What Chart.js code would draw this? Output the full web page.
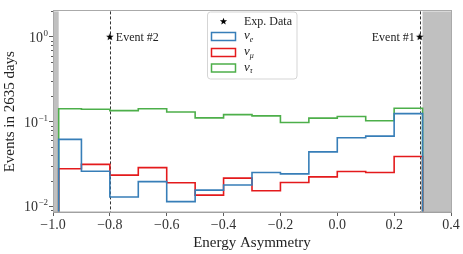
<!DOCTYPE html>
<html><head><meta charset="utf-8">
<script src="https://cdn.jsdelivr.net/npm/chart.js@4/dist/chart.umd.min.js"></script>
<style>html,body{margin:0;padding:0;background:#fff}#wrap{width:463px;height:254px;position:relative}</style>
</head><body><div id="wrap"><canvas id="c" width="463" height="254"></canvas></div>
<script>
// ---- data ----
const binEdges = [-0.98,-0.9,-0.8,-0.7,-0.6,-0.5,-0.4,-0.3,-0.2,-0.1,0.0,0.1,0.2,0.3];
const nuE   = [0.0618,0.0260,0.0129,0.0196,0.0114,0.0156,0.0179,0.0251,0.0242,0.0440,0.0646,0.0676,0.1245];
const nuMu  = [0.0279,0.0314,0.0234,0.0287,0.0190,0.0136,0.0216,0.0153,0.0192,0.0223,0.0258,0.0251,0.0389];
const nuTau = [0.142,0.140,0.135,0.142,0.130,0.111,0.121,0.117,0.098,0.110,0.115,0.1026,0.144];
const eventX = [-0.8, 0.29];
const eventY = [1, 1];
const eventLabels = ['Event #2', 'Event #1'];
const xTicks = [-1.0,-0.8,-0.6,-0.4,-0.2,0.0,0.2,0.4];
const yTicks = [0.01, 0.1, 1];
const yTickExp = ['\u22122', '\u22121', '0'];
const excludedRanges = [[-1.0,-0.98],[0.3,0.4]];
const seriesNames = ['e', '\u03bc', '\u03c4'];
const seriesColors = ['#377eb8', '#e41a1c', '#4daf4a'];

const SERIF = '"Liberation Serif", "DejaVu Serif", serif';
const Y_MIN = 0.0086, Y_MAX = 2.0;

function histPoints(vals) {
  const pts = [{x: binEdges[0], y: 1e-4}];
  vals.forEach((v, i) => { pts.push({x: binEdges[i], y: v}); pts.push({x: binEdges[i+1], y: v}); });
  pts.push({x: binEdges[binEdges.length-1], y: 1e-4});
  return pts;
}

function makeStar(r, color) {
  const c = document.createElement('canvas');
  const s = Math.ceil(r*2 + 2);
  c.width = s; c.height = s;
  const g = c.getContext('2d');
  g.fillStyle = color;
  g.beginPath();
  for (let i = 0; i < 10; i++) {
    const rr = i % 2 === 0 ? r : r*0.42;
    const a = -Math.PI/2 + i*Math.PI/5;
    const px = s/2 + rr*Math.cos(a), py = s/2 + rr*Math.sin(a);
    if (i === 0) g.moveTo(px, py); else g.lineTo(px, py);
  }
  g.closePath(); g.fill();
  return c;
}
const starImg = makeStar(4, '#000');

function drawStar(ctx, x, y, r) {
  ctx.beginPath();
  for (let i = 0; i < 10; i++) {
    const rr = i % 2 === 0 ? r : r*0.42;
    const a = -Math.PI/2 + i*Math.PI/5;
    const px = x + rr*Math.cos(a), py = y + rr*Math.sin(a);
    if (i === 0) ctx.moveTo(px, py); else ctx.lineTo(px, py);
  }
  ctx.closePath(); ctx.fillStyle = '#000'; ctx.fill();
}

const decor = {
  id: 'decor',
  beforeDatasetsDraw(chart) {
    const {ctx, chartArea: a, scales: {x, y}} = chart;
    ctx.save();
    ctx.fillStyle = '#c0c0c0';
    excludedRanges.forEach(([lo, hi]) => {
      const x0 = x.getPixelForValue(lo), x1 = x.getPixelForValue(hi);
      ctx.fillRect(x0, a.top, x1 - x0, a.bottom - a.top);
    });
    ctx.strokeStyle = '#000'; ctx.lineWidth = 0.8; ctx.setLineDash([3, 2]);
    eventX.forEach(v => {
      const px = Math.round(x.getPixelForValue(v)) + 0.5;
      ctx.beginPath(); ctx.moveTo(px, a.top); ctx.lineTo(px, a.bottom); ctx.stroke();
    });
    ctx.restore();
  },
  afterDraw(chart) {
    const {ctx, chartArea: a, scales: {x, y}} = chart;
    ctx.save();
    // minor y ticks
    ctx.strokeStyle = '#333'; ctx.lineWidth = 0.8;
    for (let e = -3; e <= 1; e++) {
      for (let m = 2; m <= 9; m++) {
        const v = m * Math.pow(10, e);
        if (v < Y_MIN || v > Y_MAX) continue;
        const py = Math.round(y.getPixelForValue(v)) + 0.5;
        ctx.beginPath(); ctx.moveTo(a.left - 2, py); ctx.lineTo(a.left, py); ctx.stroke();
      }
    }
    // y tick labels with superscripts
    ctx.fillStyle = '#333'; ctx.textBaseline = 'alphabetic';
    yTicks.forEach((v, i) => {
      const py = y.getPixelForValue(v);
      ctx.font = '9px ' + SERIF;
      const ew = ctx.measureText(yTickExp[i]).width;
      const right = a.left - 5;
      ctx.textAlign = 'left';
      ctx.fillText(yTickExp[i], right - ew, py - 1);
      ctx.font = '14px ' + SERIF;
      ctx.textAlign = 'right';
      ctx.fillText('10', right - ew - 0.5, py + 5);
    });
    // event labels
    ctx.font = '12px ' + SERIF; ctx.fillStyle = '#222'; ctx.textBaseline = 'middle';
    eventX.forEach((v, i) => {
      const px = x.getPixelForValue(v), py = y.getPixelForValue(eventY[i]);
      if (i === 0) { ctx.textAlign = 'left'; ctx.fillText(eventLabels[i], px + 6, py + 0.5); }
      else { ctx.textAlign = 'right'; ctx.fillText(eventLabels[i], px - 5, py + 0.5); }
    });
    // axis titles
    ctx.fillStyle = '#222'; ctx.font = '15px ' + SERIF; ctx.textAlign = 'center'; ctx.textBaseline = 'middle';
    ctx.fillText('Energy Asymmetry', (a.left + a.right) / 2, 243);
    ctx.save(); ctx.translate(10, (a.top + a.bottom) / 2); ctx.rotate(-Math.PI/2);
    ctx.fillText('Events in 2635 days', 0, 0); ctx.restore();
    // legend
    const lx = 207.5, ly = 12, lw = 89.5, lh = 67;
    ctx.beginPath();
    const r = 3;
    ctx.moveTo(lx + r, ly); ctx.lineTo(lx + lw - r, ly); ctx.arcTo(lx + lw, ly, lx + lw, ly + r, r);
    ctx.lineTo(lx + lw, ly + lh - r); ctx.arcTo(lx + lw, ly + lh, lx + lw - r, ly + lh, r);
    ctx.lineTo(lx + r, ly + lh); ctx.arcTo(lx, ly + lh, lx, ly + lh - r, r);
    ctx.lineTo(lx, ly + r); ctx.arcTo(lx, ly, lx + r, ly, r); ctx.closePath();
    ctx.fillStyle = 'rgba(255,255,255,0.85)'; ctx.fill();
    ctx.strokeStyle = '#d5d5d5'; ctx.lineWidth = 1; ctx.stroke();
    drawStar(ctx, 223.5, 21.5, 3.8);
    ctx.fillStyle = '#222'; ctx.font = '12px ' + SERIF; ctx.textAlign = 'left'; ctx.textBaseline = 'middle';
    ctx.fillText('Exp. Data', 244, 21.5);
    const rows = [36.5, 52.5, 68];
    rows.forEach((cy, i) => {
      ctx.strokeStyle = seriesColors[i]; ctx.lineWidth = 1.5;
      ctx.strokeRect(211.5, cy - 4, 24, 8);
      ctx.fillStyle = '#222';
      ctx.font = 'italic 13px ' + SERIF;
      ctx.fillText('\u03bd', 244, cy - 0.5);
      const w = ctx.measureText('\u03bd').width;
      ctx.font = (i === 0 ? 'italic ' : 'italic ') + '8px ' + SERIF;
      ctx.fillText(seriesNames[i], 244 + w, cy + 3);
    });
    ctx.restore();
  }
};

new Chart(document.getElementById('c'), {
  type: 'line',
  data: {
    datasets: [
      {label: '\u03bd_e', data: histPoints(nuE), borderColor: seriesColors[0], borderWidth: 1.6, pointRadius: 0, fill: false, tension: 0},
      {label: '\u03bd_\u03bc', data: histPoints(nuMu), borderColor: seriesColors[1], borderWidth: 1.6, pointRadius: 0, fill: false, tension: 0},
      {label: '\u03bd_\u03c4', data: histPoints(nuTau), borderColor: seriesColors[2], borderWidth: 1.6, pointRadius: 0, fill: false, tension: 0},
      {type: 'scatter', label: 'Exp. Data', data: eventX.map((v, i) => ({x: v, y: eventY[i]})), pointStyle: starImg, pointRadius: 5, showLine: false}
    ]
  },
  options: {
    responsive: false, animation: false, devicePixelRatio: 1,
    layout: {padding: {top: 6, right: 12, left: 0, bottom: 0}},
    plugins: {legend: {display: false}, tooltip: {enabled: false}},
    scales: {
      x: {
        type: 'linear', min: -1, max: 0.4,
        afterBuildTicks: s => { s.ticks = xTicks.map(v => ({value: v})); },
        afterFit: s => { s.height = 42; },
        ticks: {
          callback: v => (v < -1e-9 ? '\u2212' : '') + Math.abs(v).toFixed(1),
          font: {family: SERIF, size: 14}, color: '#333', padding: 1, maxRotation: 0, autoSkip: false
        },
        grid: {drawOnChartArea: false, drawTicks: true, tickLength: 4, color: '#333', tickWidth: 0.8},
        border: {display: true, color: '#999', width: 1}
      },
      y: {
        type: 'logarithmic', min: Y_MIN, max: Y_MAX,
        afterBuildTicks: s => { s.ticks = yTicks.map(v => ({value: v, major: true})); },
        afterFit: s => { s.width = 53; },
        ticks: {callback: () => '', font: {family: SERIF, size: 14}},
        grid: {drawOnChartArea: false, drawTicks: true, tickLength: 4, color: '#333', tickWidth: 0.8},
        border: {display: true, color: '#999', width: 1}
      }
    }
  },
  plugins: [decor, {
    id: 'frame',
    afterDatasetsDraw(chart) {
      const {ctx, chartArea: a} = chart;
      ctx.save(); ctx.strokeStyle = '#aaa'; ctx.lineWidth = 1;
      ctx.strokeRect(Math.round(a.left) + 0.5, Math.round(a.top) - 0.5, Math.round(a.right - a.left), Math.round(a.bottom - a.top) + 0.5);
      ctx.restore();
    }
  }]
});
</script></body></html>
